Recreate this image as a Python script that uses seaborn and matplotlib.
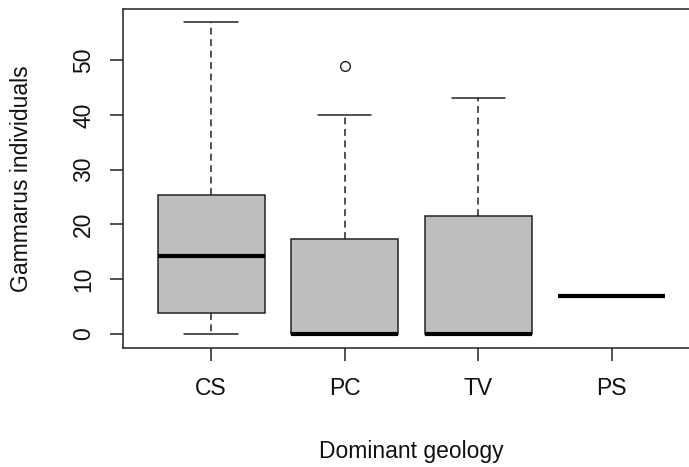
import numpy as np
import pandas as pd
import matplotlib
matplotlib.use("Agg")
import matplotlib.pyplot as plt
import seaborn as sns

# Data (values per geology group)
categories = ["CS", "PC", "TV", "PS"]
cs_values = [0, 3.8, 14.3, 25.4, 57]
pc_values = [0, 0, 0, 0, 0, 8, 17.35, 40, 49]
tv_values = [0, 0, 0, 21.6, 43]
ps_values = [6.9, 6.9, 6.9, 6.9, 6.9]
y_ticks = [0, 10, 20, 30, 40, 50]
x_title = "Dominant geology"
y_title = "Gammarus individuals"

groups = dict(zip(categories, [cs_values, pc_values, tv_values, ps_values]))
df = pd.DataFrame(
    [(g, v) for g, vals in groups.items() for v in vals],
    columns=["geology", "count"],
)

sns.set_style("white")
plt.rcParams["font.family"] = ["Liberation Sans", "DejaVu Sans"]

fig = plt.figure(figsize=(6.89, 4.67), dpi=100)
ax = fig.add_axes([123 / 689, (467 - 348) / 467, 577 / 689, 339 / 467])

sns.boxplot(
    data=df, x="geology", y="count", order=categories, ax=ax,
    color="#BEBEBE", saturation=1, linecolor="#222222", linewidth=1.1,
    width=0.8, whis=1.5,
    whiskerprops=dict(linestyle=(0, (4.5, 3)), color="#222222", linewidth=1.1),
    capprops=dict(color="#222222", linewidth=1.1),
    medianprops=dict(color="black", linewidth=3, solid_capstyle="butt"),
    boxprops=dict(edgecolor="#222222", linewidth=1.1),
    flierprops=dict(marker="o", markerfacecolor="none", markeredgecolor="#222222",
                    markersize=7, markeredgewidth=1),
)

ax.set_xlim(-0.66, 3.66)
ax.set_ylim(-2.6, 59.35)
ax.set_yticks(y_ticks)
ax.set_yticklabels([str(t) for t in y_ticks], rotation=90, va="center")

for s in ax.spines.values():
    s.set_visible(True)
    s.set_color("#222222")
    s.set_linewidth(1.1)

ax.tick_params(axis="both", which="major", length=9.5, width=1.1, color="#222222",
               labelsize=16.5, labelcolor="#111111", direction="out")
ax.tick_params(axis="x", pad=11.5, bottom=True)
ax.tick_params(axis="y", pad=10.5, left=True)

ax.set_xlabel(x_title, fontsize=16.5, color="#111111")
ax.set_ylabel(y_title, fontsize=16.5, color="#111111")
ax.xaxis.set_label_coords(0.5, -0.272)
ax.yaxis.set_label_coords(-0.156, 0.5)

fig.savefig("out.png", dpi=100)
